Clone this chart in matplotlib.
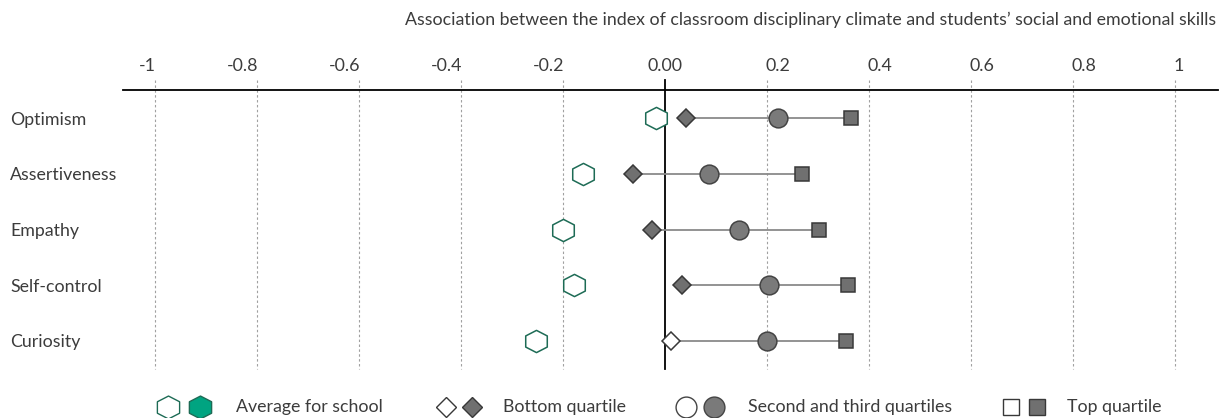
import matplotlib
matplotlib.use("Agg")
import matplotlib.pyplot as plt
from matplotlib.path import Path

# ---------------- data ----------------
categories = ["Optimism", "Assertiveness", "Empathy", "Self-control", "Curiosity"]
school_avg = [-0.018, -0.160, -0.200, -0.179, -0.252]
school_sig = [False, False, False, False, False]
bottom_q = [0.042, -0.062, -0.026, 0.034, 0.011]
bottom_sig = [True, True, True, True, False]
middle_q = [0.221, 0.086, 0.145, 0.203, 0.200]
middle_sig = [True, True, True, True, True]
top_q = [0.365, 0.268, 0.302, 0.359, 0.354]
top_sig = [True, True, True, True, True]

tick_values = [-1, -0.8, -0.6, -0.4, -0.2, 0, 0.2, 0.4, 0.6, 0.8, 1]
tick_labels = ["-1", "-0.8", "-0.6", "-0.4", "-0.2", "0.00", "0.2", "0.4", "0.6", "0.8", "1"]
title = "Association between the index of classroom disciplinary climate and students\u2019 social and emotional skills"
legend_labels = ["Average for school", "Bottom quartile", "Second and third quartiles", "Top quartile"]

# ---------------- style ----------------
plt.rcParams['font.family'] = ['Lato', 'DejaVu Sans']
TXT = "#3c3c3c"
TEAL_EDGE = "#1d6b55"
TEAL_FILL = "#00a481"
GREY_FILL = "#707070"
GREY_EDGE = "#383838"
FS = 12.8

# slightly wide pointy-top hexagon marker
HEX = Path([(0, 1), (0.97, 0.5), (0.97, -0.5), (0, -1), (-0.97, -0.5),
            (-0.97, 0.5), (0, 1)], closed=True)

W, H, DPI = 1221, 418, 100
fig = plt.figure(figsize=(W / DPI, H / DPI), dpi=DPI)
ax = fig.add_axes([0, 0, 1, 1])
ax.set_axis_off()

# pixel mapping helpers (layout only)
x0px, ppu = 665.0, 510.0
y0px, rowpx = 118.0, 55.75
ax.set_xlim((0 - x0px) / ppu, (W - x0px) / ppu)
ax.set_ylim((H - y0px) / rowpx, (0 - y0px) / rowpx)

def px2x(p):
    return (p - x0px) / ppu

def py2y(p):
    return (p - y0px) / rowpx

# grid lines
y_top, y_bot = py2y(80), py2y(369)
for v in tick_values:
    if v == 0:
        ax.plot([v, v], [y_top, y_bot], color="black", lw=1.3, zorder=2)
    else:
        ax.plot([v, v], [y_top, y_bot], color="#a0a0a0", lw=0.8,
                linestyle=(0, (2.2, 2.2)), zorder=1)

# axis line
ax.plot([px2x(123), px2x(1218)], [py2y(90)] * 2, color="black", lw=1.3, zorder=2)

# tick labels
for v, lab in zip(tick_values, tick_labels):
    if v < 0:
        ha, xx = "right", v + 0.002
    elif v > 0:
        ha, xx = "left", v - 0.002
    else:
        ha, xx = "center", v
    ax.text(xx, py2y(66), lab, ha=ha, va="center", fontsize=FS, color=TXT)

# title
ax.text(px2x(1216), py2y(20), title, ha="right", va="center", fontsize=FS, color=TXT)

# category labels
for i, c in enumerate(categories):
    ax.text(px2x(10), py2y(y0px + 1.5) + i, c, ha="left", va="center",
            fontsize=FS, color=TXT)

# markers
for i in range(len(categories)):
    ax.plot([bottom_q[i], top_q[i]], [i, i], color="#8a8a8a", lw=1.3, zorder=3)
    ax.plot(school_avg[i], i, marker=HEX, ms=16, mew=1.1, mec=TEAL_EDGE,
            mfc=TEAL_FILL if school_sig[i] else "white", zorder=4)
    ax.plot(bottom_q[i], i, marker="D", ms=9.5, mew=1.1, mec=GREY_EDGE,
            mfc=GREY_FILL if bottom_sig[i] else "white", zorder=4)
    ax.plot(middle_q[i], i, marker="o", ms=13.5, mew=1.1, mec="#444444",
            mfc="#7a7a7a" if middle_sig[i] else "white", zorder=4)
    ax.plot(top_q[i], i, marker="s", ms=9.8, mew=1.1, mec=GREY_EDGE,
            mfc=GREY_FILL if top_sig[i] else "white", zorder=4)

# legend (manual)
ly = py2y(407)
leg_items = [
    (HEX, 16.5, TEAL_EDGE, TEAL_FILL, 168, 200, 236),
    ("D", 10.5, GREY_EDGE, GREY_FILL, 446, 472, 503),
    ("o", 15.0, "#444444", "#7a7a7a", 686, 714, 748),
    ("s", 11.0, GREY_EDGE, GREY_FILL, 1011, 1037, 1067),
]
for (mk, ms, ec, fc, xo, xf, xt), lab in zip(leg_items, legend_labels):
    ax.plot(px2x(xo), ly, marker=mk, ms=ms, mew=1.0, mec=ec, mfc="white", clip_on=False)
    ax.plot(px2x(xf), ly, marker=mk, ms=ms, mew=1.0, mec=ec, mfc=fc, clip_on=False)
    ax.text(px2x(xt), ly, lab, ha="left", va="center", fontsize=FS, color=TXT)

fig.savefig("out.png", dpi=DPI)
